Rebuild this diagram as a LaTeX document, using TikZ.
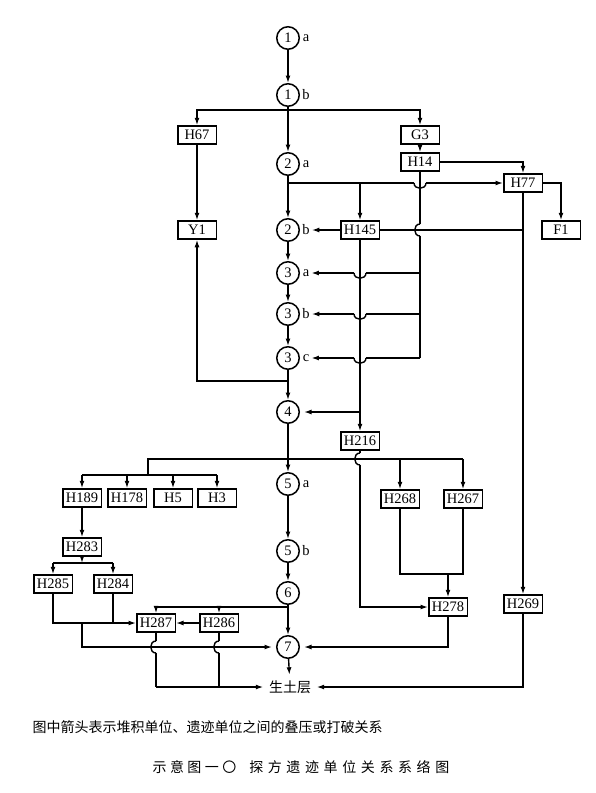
\documentclass[tikz,border=0pt]{standalone}
\usepackage{fontspec}
\setmainfont{Liberation Serif}
\newfontfamily\cjk{Noto Sans CJK SC}
\usetikzlibrary{arrows.meta}
\begin{document}
\begin{tikzpicture}[x=1pt,y=-1pt,line width=1.4pt,
  box/.style={draw,line width=1.5pt,minimum width=38.5pt,minimum height=18pt,inner sep=1pt,font=\fontsize{14.5}{16}\selectfont},
  circ/.style={draw,circle,line width=1.5pt,minimum size=22.5pt,inner sep=0pt,font=\fontsize{14.5}{16}\selectfont},
  lab/.style={inner sep=1.5pt,font=\fontsize{14.5}{16}\selectfont},
  arr/.style={-{Latex[length=7.5pt,width=5pt]}},
  sarr/.style={-{Latex[length=7.5pt,width=5pt]},shorten >=4pt},
  cjktext/.style={inner sep=0pt,font=\cjk\fontsize{14}{16}\selectfont}]
\useasboundingbox (0,0) rectangle (595,793);

% circles
\node[circ] (c1a) at (288,38) {1};
\node[circ] (c1b) at (288,95) {1};
\node[circ] (c2a) at (288,164) {2};
\node[circ] (c2b) at (288,230) {2};
\node[circ] (c3a) at (288,273) {3};
\node[circ] (c3b) at (288,314) {3};
\node[circ] (c3c) at (288,358) {3};
\node[circ] (c4) at (288,412) {4};
\node[circ] (c5a) at (288,484) {5};
\node[circ] (c5b) at (288,551) {5};
\node[circ] (c6) at (288,593) {6};
\node[circ] (c7) at (288,647) {7};
% circle labels
\node[lab] (l1a) at (306,38) {a};
\node[lab] (l1b) at (306,95) {b};
\node[lab] (l2a) at (306,164) {a};
\node[lab] (l2b) at (306,230) {b};
\node[lab] (l3a) at (306,273) {a};
\node[lab] (l3b) at (306,314) {b};
\node[lab] (l3c) at (306,358) {c};
\node[lab] (l5a) at (306,484) {a};
\node[lab] (l5b) at (306,551) {b};

% boxes
\node[box] (H67) at (197,135) {H67};
\node[box] (G3) at (420,135) {G3};
\node[box] (H14) at (420,162) {H14};
\node[box] (H77) at (523,183) {H77};
\node[box] (H145) at (360,230) {H145};
\node[box] (Y1) at (197,230) {Y1};
\node[box] (F1) at (561,230) {F1};
\node[box] (H216) at (360,441) {H216};
\node[box] (H189) at (82,498) {H189};
\node[box] (H178) at (127,498) {H178};
\node[box] (H5) at (173,498) {H5};
\node[box] (H3) at (217,498) {H3};
\node[box] (H268) at (400,499) {H268};
\node[box] (H267) at (463,499) {H267};
\node[box] (H283) at (82,547) {H283};
\node[box] (H285) at (53,584) {H285};
\node[box] (H284) at (113,584) {H284};
\node[box] (H278) at (448,607) {H278};
\node[box] (H269) at (523,604) {H269};
\node[box] (H287) at (156,623) {H287};
\node[box] (H286) at (219,623) {H286};
\node[cjktext,inner sep=5pt] (soil) at (290,687) {生土层};

% connectors
\draw[arr] (c1a) -- (c1b);
\draw[arr] (c1b) -- (c2a);
\coordinate (j1) at (288,110);
\draw[arr] (j1) -| (H67.north);
\draw[arr] (j1) -| (G3.north);
\draw[arr] (G3) -- (H14);
\draw[arr] (H67) -- (Y1);
\draw[arr] (H14.east) -| (H77.north);
\draw[arr] (c2a) -- (c2b);
% 2a -> H77 with hop over H14 line
\draw (288,183) -- (414,183);
\draw (414,183) .. controls (414,190) and (426,190) .. (426,183);
\draw[arr] (426,183) -- (H77.west);
\draw[arr] (360,183) -- (H145.north);
\draw[arr] (H77.east) -| (F1.north);
\draw[arr] (H145.west) -- (l2b.east);
\draw (H145.east) -- (523,230);
\draw[arr] (H77.south) -- (H269.north);
% H14 vertical with hop
\draw (H14.south) -- (420,224);
\draw (420,224) .. controls (413,224) and (413,236) .. (420,236);
\draw (420,236) -- (420,358);
% H14 line -> 3a, 3b, 3c with hops
\draw (420,273) -- (366,273);
\draw (366,273) .. controls (366,280) and (354,280) .. (354,273);
\draw[arr] (354,273) -- (l3a.east);
\draw (420,314) -- (366,314);
\draw (366,314) .. controls (366,321) and (354,321) .. (354,314);
\draw[arr] (354,314) -- (l3b.east);
\draw (420,358) -- (366,358);
\draw (366,358) .. controls (366,365) and (354,365) .. (354,358);
\draw[arr] (354,358) -- (l3c.east);
\draw[arr] (c2b) -- (c3a);
\draw[arr] (c3a) -- (c3b);
\draw[arr] (c3b) -- (c3c);
\draw[arr] (c3c) -- (c4);
\draw[arr] (288,381) -| (Y1.south);
\draw[arr] (H145.south) -- (H216.north);
\draw[sarr] (360,412) -- (c4.east);
\draw[arr] (c4) -- (c5a);
\draw (148,475) -- (148,459) -- (463,459);
\draw[arr] (400,459) -- (H268);
\draw[arr] (463,459) -- (H267);
\draw (82,475) -- (217,475);
\draw[arr] (82,475) -- (H189);
\draw[arr] (127,475) -- (H178);
\draw[arr] (173,475) -- (H5);
\draw[arr] (217,475) -- (H3);
\draw[arr] (H189) -- (H283);
\draw[arr] (H283.south) -- (82,563);
\draw (53,563) -- (113,563);
\draw[arr] (53,563) -- (H285);
\draw[arr] (113,563) -- (H284);
\draw (H268.south) -- (400,574) -- (463,574) -- (H267.south);
\draw[arr] (448,574) -- (H278);
% H216 -> H278 with hop
\draw (H216.south) -- (360,453);
\draw (360,453) .. controls (353,453) and (353,465) .. (360,465);
\draw[arr] (360,465) -- (360,607) -- (H278.west);
\draw[arr] (c5a) -- (c5b);
\draw[arr] (c5b) -- (c6);
\draw[arr] (c6) -- (c7);
\draw (288,607) -- (156,607);
\draw[arr] (156,607) -- (H287);
\draw[arr] (219,607) -- (H286);
\draw[arr] (H286) -- (H287);
\draw (H285.south) -- (53,623) -- (113,623);
\draw (H284.south) -- (113,623);
\draw[arr] (113,623) -- (H287.west);
\draw[sarr] (82,623) -- (82,647) -- (c7.west);
% H287, H286 -> soil with hops
\draw (H287.south) -- (156,641);
\draw (156,641) .. controls (149,641) and (149,653) .. (156,653);
\draw (156,653) -- (156,687);
\draw (H286.south) -- (219,641);
\draw (219,641) .. controls (212,641) and (212,653) .. (219,653);
\draw (219,653) -- (219,687);
\draw[arr] (156,687) -- (soil.west);
\draw[sarr] (H278.south) -- (448,647) -- (c7.east);
\draw[arr] (c7) -- (soil);
\draw[arr] (H269.south) -- (523,687) -- (soil.east);

% texts
\node[cjktext,anchor=west] (note) at (32,727) {图中箭头表示堆积单位、遗迹单位之间的叠压或打破关系};
\node[cjktext,anchor=west] (cap) at (152,767) {示\hspace{3.4pt}意\hspace{3.4pt}图\hspace{3.4pt}一\hspace{3.4pt}〇\hspace{13pt}探\hspace{4.6pt}方\hspace{4.6pt}遗\hspace{4.6pt}迹\hspace{4.6pt}单\hspace{4.6pt}位\hspace{4.6pt}关\hspace{4.6pt}系\hspace{4.6pt}系\hspace{4.6pt}络\hspace{4.6pt}图};
\end{tikzpicture}
\end{document}
